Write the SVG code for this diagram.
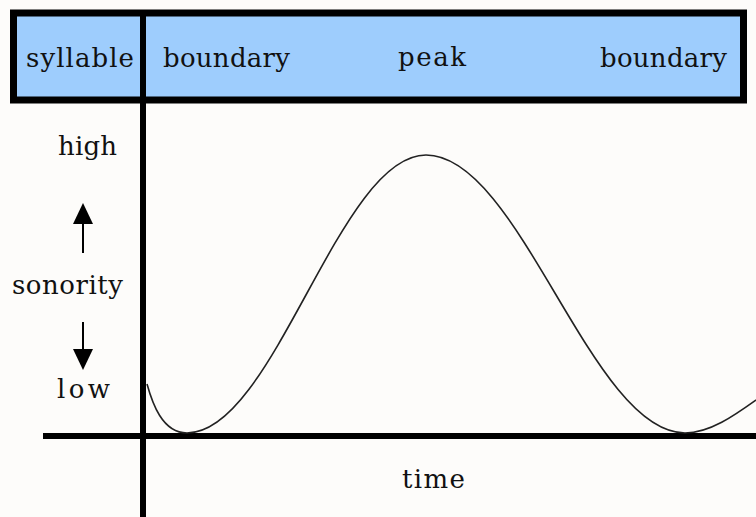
<svg xmlns="http://www.w3.org/2000/svg" width="756" height="517" viewBox="0 0 756 517">
<style>
.t{font-family:"DejaVu Serif","Liberation Serif",serif;font-size:26px;fill:#111}
.axis{stroke:#000;stroke-width:6;fill:none}
.curve{stroke:#222;stroke-width:1.6;fill:none}
</style>
<defs>
<marker id="ah" markerWidth="10" markerHeight="10" refX="10" refY="5" orient="auto" markerUnits="userSpaceOnUse" viewBox="0 0 10 10">
<path d="M0,0 L10,5 L0,10 z" fill="#000"/>
</marker>
</defs>
<rect x="0" y="0" width="756" height="517" fill="#fdfcfa"/>
<g id="header">
<rect x="13.5" y="13" width="730" height="87" fill="#9ecdfd" stroke="#000" stroke-width="7"/>
<text class="t" x="26" y="67" textLength="108" lengthAdjust="spacing">syllable</text>
<text class="t" x="163" y="67" textLength="127" lengthAdjust="spacing">boundary</text>
<text class="t" x="398" y="66" textLength="68" lengthAdjust="spacing">peak</text>
<text class="t" x="600" y="67" textLength="127" lengthAdjust="spacing">boundary</text>
</g>
<g id="axes">
<line class="axis" x1="143" y1="13" x2="143" y2="517"/>
<line class="axis" x1="43" y1="436" x2="756" y2="436"/>
</g>
<g id="labels">
<text class="t" x="58" y="155" textLength="59" lengthAdjust="spacing">high</text>
<text class="t" x="12" y="294" textLength="111" lengthAdjust="spacing">sonority</text>
<text class="t" x="57" y="398" textLength="53" lengthAdjust="spacing">low</text>
<text class="t" x="402" y="488" textLength="63" lengthAdjust="spacing">time</text>
</g>
<g id="connectors">
<path d="M83,253 V220" stroke="#000" stroke-width="2"/>
<path d="M73,224 L83,203 L93,224 z" fill="#000"/>
<path d="M83,322 V352" stroke="#000" stroke-width="2"/>
<path d="M73,349 L83,370 L93,349 z" fill="#000"/>
</g>
<g id="curve">
<path class="curve" d="M147,384 C152,402 162,433 187,433 C274,433 339,155 426,155 C520,155 591,433 685,433 C710,433 735,415 756,400"/>
</g>
</svg>
